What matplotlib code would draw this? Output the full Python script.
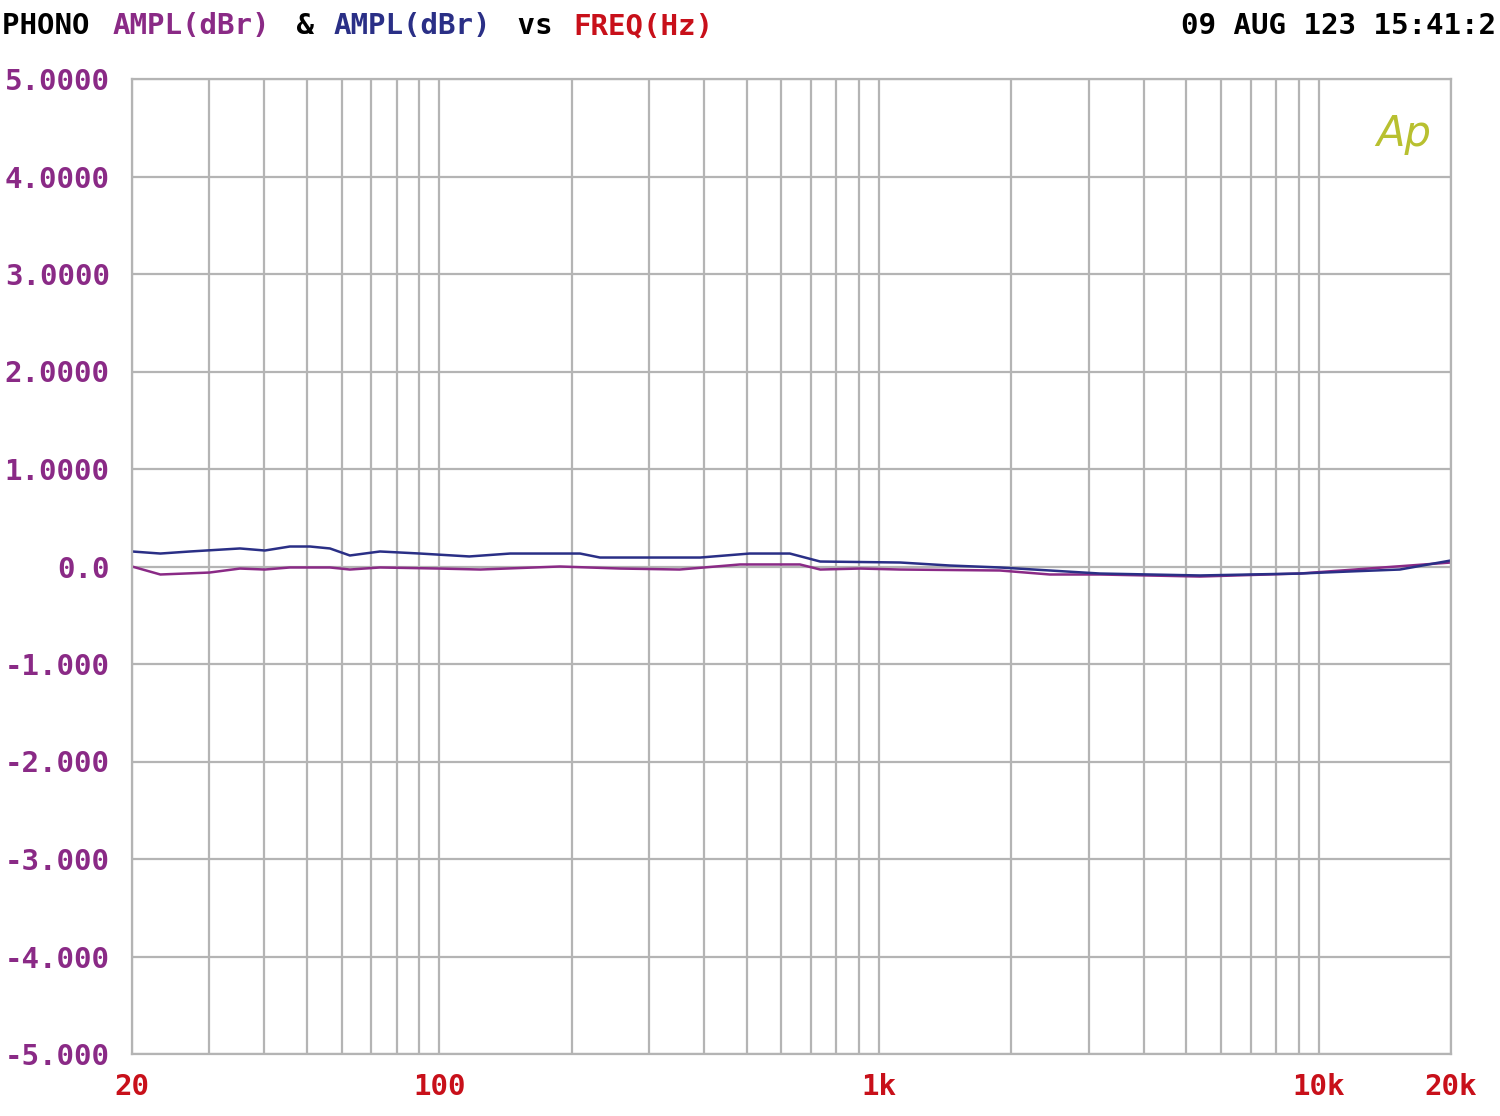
import matplotlib
matplotlib.use("Agg")
import matplotlib.pyplot as plt
from matplotlib.ticker import FixedLocator, NullFormatter

PURPLE = "#8a2a86"
BLUE = "#2a2f86"
RED = "#c8101a"

# channel 1 (blue)
blue_freq = [20, 23.2, 27.1, 35.2, 40.1, 45.7, 50.8, 56.4, 62.6, 73.3, 90.4, 117, 145, 209,
             232, 392, 508, 627, 735, 1117, 1450, 1884, 2448, 3179, 5370, 9070, 11780, 15300, 20000]
blue_db = [0.154, 0.133, 0.154, 0.185, 0.164, 0.205, 0.205, 0.185, 0.113, 0.154, 0.133, 0.103, 0.133, 0.133,
           0.092, 0.092, 0.133, 0.133, 0.051, 0.041, 0.010, -0.010, -0.041, -0.072, -0.092, -0.072, -0.051, -0.031, 0.062]
# channel 2 (purple)
purple_freq = [20, 23.2, 30.0, 35.2, 40.1, 45.7, 56.4, 62.6, 73.3, 100, 124, 188, 258, 352,
               483, 661, 735, 906, 1117, 1884, 2448, 3179, 5370, 9070, 20000]
purple_db = [0.0, -0.082, -0.062, -0.021, -0.031, -0.010, -0.010, -0.031, -0.010, -0.021, -0.031, 0.0, -0.021, -0.031,
             0.021, 0.021, -0.031, -0.021, -0.031, -0.041, -0.082, -0.082, -0.103, -0.072, 0.041]

y_ticks = [5, 4, 3, 2, 1, 0, -1, -2, -3, -4, -5]
y_labels = ["5.0000", "4.0000", "3.0000", "2.0000", "1.0000", "0.0",
            "-1.000", "-2.000", "-3.000", "-4.000", "-5.000"]
x_ticks = [20, 100, 1000, 10000, 20000]
x_labels = ["20", "100", "1k", "10k", "20k"]

mono = "DejaVu Sans Mono"
fig = plt.figure(figsize=(15, 11.16), dpi=100)
ax = fig.add_axes([132 / 1500, 1 - 1054 / 1116, 1319 / 1500, 975 / 1116])

ax.plot(purple_freq, purple_db, color=PURPLE, lw=1.8)
ax.plot(blue_freq, blue_db, color=BLUE, lw=1.8)

ax.set_xscale("log")
ax.set_xlim(20, 20000)
ax.set_ylim(-5, 5)
minor = [f * d for d in (10, 100, 1000) for f in range(2, 10) if 20 <= f * d <= 20000]
ax.xaxis.set_major_locator(FixedLocator(x_ticks))
ax.xaxis.set_minor_locator(FixedLocator(minor))
ax.xaxis.set_minor_formatter(NullFormatter())
ax.set_xticklabels(x_labels)
ax.set_yticks(y_ticks)
ax.set_yticklabels(y_labels)
ax.grid(True, which="both", color="#b4b4b4", lw=1.6)
for s in ax.spines.values():
    s.set_color("#b4b4b4")
    s.set_linewidth(1.6)
ax.tick_params(which="both", length=0)
ax.tick_params(axis="y", pad=16, labelsize=21, labelcolor=PURPLE)
ax.tick_params(axis="x", pad=14, labelsize=21, labelcolor=RED)
for t in ax.get_yticklabels() + ax.get_xticklabels():
    t.set_family(mono)
    t.set_fontweight("bold")

ax.text(0.985, 0.965, "Ap", transform=ax.transAxes, ha="right", va="top",
        fontsize=30, color="#b8c030", style="italic", family="DejaVu Sans")

# title in pieces
parts = [("PHONO ", "black"), ("AMPL(dBr)", PURPLE), (" & ", "black"),
         ("AMPL(dBr)", BLUE), (" vs ", "black"), ("FREQ(Hz)", RED)]
x = 2 / 1500
for txt, col in parts:
    fig.text(x, 1 - 26 / 1116, txt, color=col, family=mono, fontsize=21,
             fontweight="bold", va="center", ha="left")
    x += len(txt) * 0.01229
fig.text(1496 / 1500, 1 - 26 / 1116, "09 AUG 123 15:41:2", color="black", family=mono,
         fontsize=21, fontweight="bold", va="center", ha="right")

fig.savefig("out.png", dpi=100, facecolor="white")
